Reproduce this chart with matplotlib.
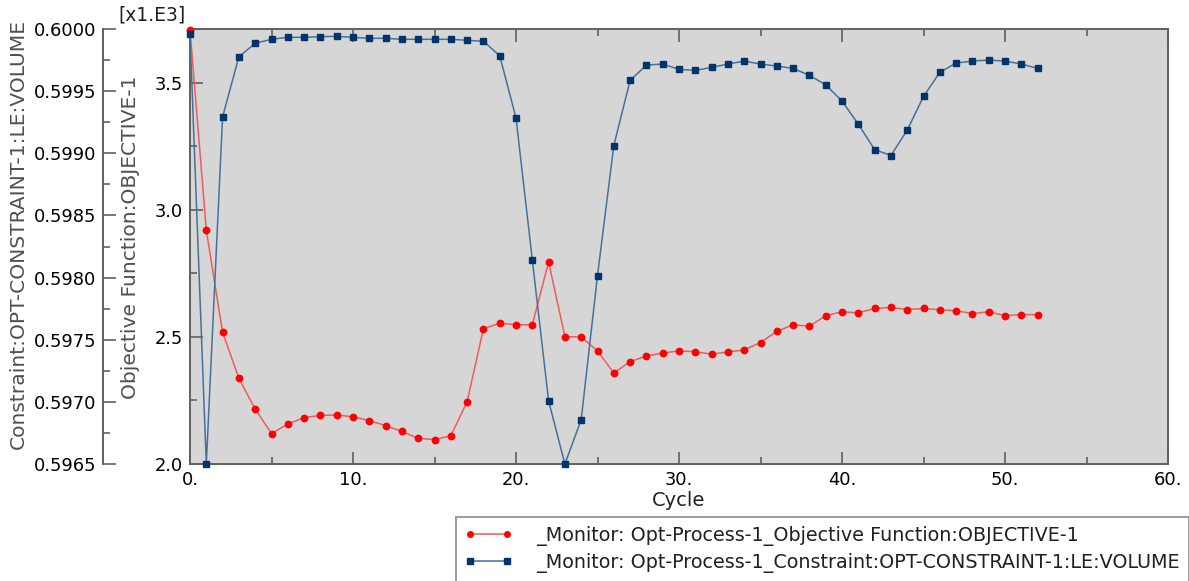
import matplotlib
matplotlib.use("Agg")
import matplotlib.pyplot as plt
from matplotlib.ticker import MultipleLocator, FixedLocator, FuncFormatter
from matplotlib.lines import Line2D

plt.rcParams['font.family'] = ['DejaVu Sans']

cycles = list(range(53))
objective = [3.709, 2.920, 2.518, 2.337, 2.216, 2.120, 2.157, 2.183, 2.191, 2.193,
             2.186, 2.171, 2.151, 2.128, 2.101, 2.096, 2.111, 2.245, 2.532, 2.554,
             2.548, 2.548, 2.795, 2.501, 2.500, 2.445, 2.358, 2.403, 2.425, 2.437,
             2.445, 2.442, 2.432, 2.441, 2.449, 2.478, 2.522, 2.548, 2.542, 2.584,
             2.599, 2.595, 2.612, 2.616, 2.608, 2.612, 2.607, 2.603, 2.592, 2.599,
             2.584, 2.588, 2.588]
volume = [0.599960, 0.596500, 0.599293, 0.599777, 0.599885, 0.599917, 0.599933, 0.599933,
          0.599938, 0.599941, 0.599933, 0.599925, 0.599925, 0.599917, 0.599917, 0.599917,
          0.599917, 0.599909, 0.599901, 0.599785, 0.599285, 0.598143, 0.597008, 0.596500,
          0.596857, 0.598016, 0.599062, 0.599586, 0.599710, 0.599718, 0.599675, 0.599667,
          0.599691, 0.599718, 0.599742, 0.599718, 0.599702, 0.599683, 0.599627, 0.599551,
          0.599420, 0.599234, 0.599030, 0.598982, 0.599186, 0.599457, 0.599651, 0.599726,
          0.599742, 0.599750, 0.599742, 0.599718, 0.599683]

obj_ticks = [2.0, 2.5, 3.0, 3.5]
vol_ticks = [0.5965, 0.5970, 0.5975, 0.5980, 0.5985, 0.5990, 0.5995, 0.6000]
x_ticks = [0, 10, 20, 30, 40, 50, 60]

label_obj = "_Monitor: Opt-Process-1_Objective Function:OBJECTIVE-1"
label_vol = "_Monitor: Opt-Process-1_Constraint:OPT-CONSTRAINT-1:LE:VOLUME"

W, H = 1189, 581
fig = plt.figure(figsize=(W / 100, H / 100), dpi=100)
fig.patch.set_facecolor('white')

L, R, T, B = 190, 1168, 29, 464
ax = fig.add_axes([L / W, 1 - B / H, (R - L) / W, (B - T) / H])
ax.set_facecolor('#d6d6d6')

FS = 12.9
spine_col = '#606060'
lab_col = '#505050'

red_line = '#f45a5a'
red_mk = '#ff0000'
blue_line = '#46709c'
blue_mk = '#00346a'

ax.plot(cycles, objective, color=red_line, lw=1.1, marker='o', ms=4.6,
        mfc=red_mk, mec=red_mk, clip_on=False, zorder=3)
ax.set_xlim(0, 60)
ax.set_ylim(2.0, 3.712)
ax.xaxis.set_major_locator(FixedLocator(x_ticks))
ax.xaxis.set_minor_locator(MultipleLocator(5))
ax.yaxis.set_major_locator(FixedLocator(obj_ticks))
ax.yaxis.set_minor_locator(MultipleLocator(0.25))
ax.xaxis.set_major_formatter(FuncFormatter(lambda v, p: f"{int(round(v))}."))
ax.yaxis.set_major_formatter(FuncFormatter(lambda v, p: f"{v:.1f}"))
ax.tick_params(which='both', direction='in', top=True, right=True, left=True, bottom=True,
               colors=spine_col, labelcolor='black', labelsize=FS, width=1.2)
ax.tick_params(which='major', length=9, pad=5)
ax.tick_params(which='minor', length=5)
ax.tick_params(axis='x', pad=5)
for s in ax.spines.values():
    s.set_color(spine_col)
    s.set_linewidth(1.4)

ax2 = ax.twinx()
ax2.patch.set_visible(False)
ax2.plot(cycles, volume, color=blue_line, lw=1.1, marker='s', ms=4.2,
         mfc=blue_mk, mec=blue_mk, clip_on=False, zorder=3)
ax2.set_ylim(0.5965, 0.6000)
ax2.yaxis.set_major_locator(FixedLocator(vol_ticks))
ax2.yaxis.set_minor_locator(MultipleLocator(0.00025))
ax2.yaxis.set_major_formatter(FuncFormatter(lambda v, p: f"{v:.4f}"))
ax2.yaxis.tick_left()
ax2.yaxis.set_label_position('left')
ax2.spines['left'].set_position(('axes', (103 - L) / (R - L)))
ax2.spines['left'].set_visible(True)
ax2.spines['left'].set_color(spine_col)
ax2.spines['left'].set_linewidth(1.4)
for k in ('right', 'top', 'bottom'):
    ax2.spines[k].set_visible(False)
ax2.tick_params(which='both', direction='in', left=True, right=False,
                colors=spine_col, labelcolor='black', labelsize=FS, width=1.2)
ax2.tick_params(which='major', length=9, pad=5)
ax2.tick_params(which='minor', length=5)

fig.text(18 / W, 1 - 234 / H, "Constraint:OPT-CONSTRAINT-1:LE:VOLUME", rotation=90,
         ha='center', va='center', fontsize=14.6, color=lab_col)
fig.text(130 / W, 1 - 237 / H, "Objective Function:OBJECTIVE-1", rotation=90,
         ha='center', va='center', fontsize=14.6, color=lab_col)
fig.text(118 / W, 1 - 15 / H, "[x1.E3]", ha='left', va='center', fontsize=13.5, color='#202020')
fig.text(679 / W, 1 - 501 / H, "Cycle", ha='center', va='center', fontsize=14, color='#202020')

handles = [Line2D([], [], color=red_line, lw=1.1, marker='o', ms=4.0, mfc=red_mk, mec=red_mk),
           Line2D([], [], color=blue_line, lw=1.1, marker='s', ms=4.0, mfc=blue_mk, mec=blue_mk)]
leg = fig.legend(handles, [label_obj, label_vol], loc='upper left',
                 bbox_to_anchor=(456 / W, 1 - 517 / H), bbox_transform=fig.transFigure,
                 frameon=True, fancybox=False, borderaxespad=0, fontsize=13.8,
                 handlelength=2.5, handletextpad=1.25, labelspacing=0.38,
                 borderpad=0.45, numpoints=2)
leg.get_frame().set_edgecolor('#808080')
leg.get_frame().set_linewidth(1.4)
for t in leg.get_texts():
    t.set_color('#202020')

fig.savefig("out.png", dpi=100)
